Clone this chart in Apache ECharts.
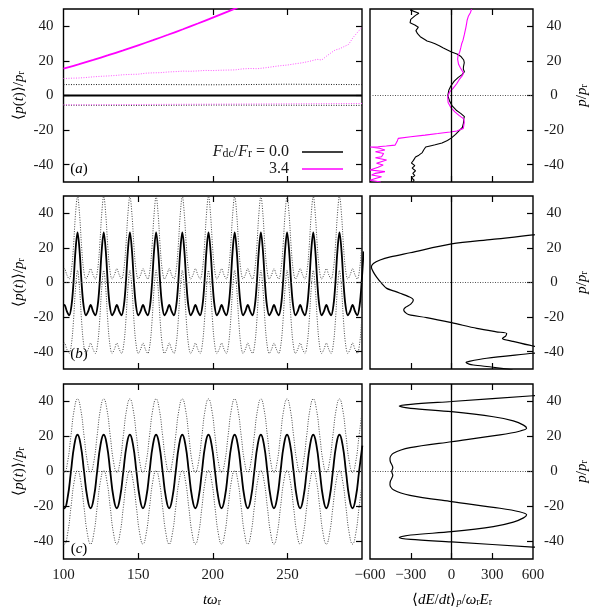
<!DOCTYPE html>
<html>
<head>
<meta charset="utf-8">
<title>p(t) and dE/dt</title>
<script src="https://cdn.jsdelivr.net/npm/echarts@6/dist/echarts.min.js"></script>
<style>
	html, body { margin: 0; padding: 0; background: #fff; }
	#chart { width: 595px; height: 608px; }
</style>
</head>
<body>
<div id="chart"></div>
<script type="text/javascript">
	// ---- panel (a), left: <p(t)> for F_dc/F_r = 0.0 and 3.4
	var tA = [100, 150, 200, 250, 300];
	var meanA0 = [0, 0, 0, 0, 0];
	var upA0 = [6.3, 6.4, 6.2, 6.5, 6.3];
	var loA0 = [-5.6, -5.7, -5.5, -5.6, -5.7];
	var loA34 = [-5.4, -5.2, -5.0, -4.8, -4.6];
	var tA34 = [100, 110, 120, 130, 140, 150, 160, 170, 180, 190, 200, 210, 220];
	var meanA34 = [15.5, 18.0, 20.6, 23.3, 26.1, 29.0, 32.0, 35.1, 38.3, 41.6, 45.0, 48.5, 52.1];
	var tA34up = [100, 105, 110, 115, 120, 125, 130, 135, 140, 145, 150, 155, 160, 165, 170, 175, 180, 185, 190, 195, 200,
		205, 210, 215, 220, 225, 230, 235, 240, 245, 250, 255, 260, 265, 270, 273, 276, 279, 282, 285, 288, 291, 294, 297, 300];
	var upA34 = [9.8, 10.0, 10.1, 10.4, 10.8, 11.1, 11.3, 11.6, 12.0, 12.2, 12.3, 12.9, 13.1, 13.2, 13.6, 13.8, 14.1, 14.0, 14.2, 14.5, 14.4,
		14.6, 14.7, 14.8, 15.4, 15.6, 15.5, 16.0, 16.6, 17.2, 17.6, 18.3, 18.9, 19.8, 20.9, 20.5, 22.6, 24.5, 26.3, 27.0, 28.3, 29.5, 33.5, 36.5, 39.5];

	// ---- panel (a), right: <dE/dt>_p vs p  [dE/dt, p]
	var eA0 = [[-305, 49.5], [-240, 47.5], [-265, 46.3], [-300, 44], [-305, 42], [-270, 40.8], [-244, 39.5], [-262, 37.5], [-250, 35.7],
		[-230, 34], [-200, 32.5], [-180, 31.5], [-150, 30.8], [-121, 29.9], [-90, 28.8], [-60, 27.5], [-30, 26.3], [0, 25.1], [40, 24],
		[70, 22.5], [90, 20.5], [94, 19], [88, 16.5], [87, 15.2], [95, 13.8], [80, 12.2], [50, 10.5], [20, 8.3], [-5, 5.5], [-20, 3],
		[-27, 0], [-15, -3], [5, -6], [35, -8.5], [70, -10.5], [95, -12.2], [90, -13.5], [88, -16], [80, -18.5], [55, -20.5], [30, -22.5],
		[0, -24.5], [-30, -26], [-70, -27.5], [-120, -28.5], [-150, -29], [-190, -29.8], [-205, -31.5], [-215, -33], [-240, -34.5],
		[-265, -35.5], [-280, -37.5], [-295, -39], [-270, -40.5], [-290, -42], [-265, -43.5], [-285, -45], [-270, -46.3], [-295, -47.5],
		[-275, -49], [-285, -50]];
	var eA34 = [[148, 50], [140, 48], [125, 46], [115, 43.5], [112, 42], [105, 39], [98, 36.5], [94, 35], [85, 32], [75, 29.9], [68, 27.5],
		[60, 25], [48, 23], [45, 21], [52, 18], [65, 16], [88, 13], [80, 11.5], [55, 9], [38, 6.8], [10, 4], [-15, 2], [-28, -1], [-25, -4],
		[-5, -7], [25, -9.5], [55, -11.5], [90, -13.5], [94, -15.5], [87, -19], [40, -20.5], [-11, -21.1], [-100, -22], [-195, -22.9],
		[-300, -23.8], [-392, -24.8], [-400, -26.5], [-416, -28.7], [-480, -29.2], [-540, -29.6], [-600, -29.8], [-530, -30.5],
		[-490, -31.5], [-560, -32.5], [-500, -33.5], [-515, -35.4], [-560, -36], [-478, -37.3], [-552, -39.2], [-503, -40.2],
		[-540, -41.5], [-600, -43.1], [-490, -44], [-560, -45], [-588, -46], [-515, -47], [-560, -48], [-600, -49], [-520, -50]];

	// ---- panel (b), left
	var tB = [100.0,
		100.63, 102.20, 103.80, 105.40, 106.70, 108.00, 109.40, 110.80, 112.10, 113.40, 115.00, 116.60,
		118.18, 119.75, 121.35, 122.95, 124.25, 125.55, 126.95, 128.35, 129.65, 130.95, 132.55, 134.15,
		135.73, 137.30, 138.90, 140.50, 141.80, 143.10, 144.50, 145.90, 147.20, 148.50, 150.10, 151.70,
		153.28, 154.85, 156.45, 158.05, 159.35, 160.65, 162.05, 163.45, 164.75, 166.05, 167.65, 169.25,
		170.83, 172.40, 174.00, 175.60, 176.90, 178.20, 179.60, 181.00, 182.30, 183.60, 185.20, 186.80,
		188.38, 189.95, 191.55, 193.15, 194.45, 195.75, 197.15, 198.55, 199.85, 201.15, 202.75, 204.35,
		205.93, 207.50, 209.10, 210.70, 212.00, 213.30, 214.70, 216.10, 217.40, 218.70, 220.30, 221.90,
		223.48, 225.05, 226.65, 228.25, 229.55, 230.85, 232.25, 233.65, 234.95, 236.25, 237.85, 239.45,
		241.03, 242.60, 244.20, 245.80, 247.10, 248.40, 249.80, 251.20, 252.50, 253.80, 255.40, 257.00,
		258.58, 260.15, 261.75, 263.35, 264.65, 265.95, 267.35, 268.75, 270.05, 271.35, 272.95, 274.55,
		276.13, 277.70, 279.30, 280.90, 282.20, 283.50, 284.90, 286.30, 287.60, 288.90, 290.50, 292.10,
		293.68, 295.25, 296.85, 298.45, 299.75, 301.05];
	var pB = [-13.2,
		-13, -16.5, -19, -13, 0, 18, 29, 18, 0, -13, -19, -16.5,
		-13, -16.5, -19, -13, 0, 18, 29, 18, 0, -13, -19, -16.5,
		-13, -16.5, -19, -13, 0, 18, 29, 18, 0, -13, -19, -16.5,
		-13, -16.5, -19, -13, 0, 18, 29, 18, 0, -13, -19, -16.5,
		-13, -16.5, -19, -13, 0, 18, 29, 18, 0, -13, -19, -16.5,
		-13, -16.5, -19, -13, 0, 18, 29, 18, 0, -13, -19, -16.5,
		-13, -16.5, -19, -13, 0, 18, 29, 18, 0, -13, -19, -16.5,
		-13, -16.5, -19, -13, 0, 18, 29, 18, 0, -13, -19, -16.5,
		-13, -16.5, -19, -13, 0, 18, 29, 18, 0, -13, -19, -16.5,
		-13, -16.5, -19, -13, 0, 18, 29, 18, 0, -13, -19, -16.5,
		-13, -16.5, -19, -13, 0, 18, 29, 18, 0, -13, -19, -16.5,
		-13, -16.5, -19, -13, 0, 18];
	var upB = [7.8,
		8, 4.5, 2, 8, 21, 39, 50, 39, 21, 8, 2, 4.5,
		8, 4.5, 2, 8, 21, 39, 50, 39, 21, 8, 2, 4.5,
		8, 4.5, 2, 8, 21, 39, 50, 39, 21, 8, 2, 4.5,
		8, 4.5, 2, 8, 21, 39, 50, 39, 21, 8, 2, 4.5,
		8, 4.5, 2, 8, 21, 39, 50, 39, 21, 8, 2, 4.5,
		8, 4.5, 2, 8, 21, 39, 50, 39, 21, 8, 2, 4.5,
		8, 4.5, 2, 8, 21, 39, 50, 39, 21, 8, 2, 4.5,
		8, 4.5, 2, 8, 21, 39, 50, 39, 21, 8, 2, 4.5,
		8, 4.5, 2, 8, 21, 39, 50, 39, 21, 8, 2, 4.5,
		8, 4.5, 2, 8, 21, 39, 50, 39, 21, 8, 2, 4.5,
		8, 4.5, 2, 8, 21, 39, 50, 39, 21, 8, 2, 4.5,
		8, 4.5, 2, 8, 21, 39];
	var loB = [-35.2,
		-35, -38.5, -41, -35, -22, -4, 7, -4, -22, -35, -41, -38.5,
		-35, -38.5, -41, -35, -22, -4, 7, -4, -22, -35, -41, -38.5,
		-35, -38.5, -41, -35, -22, -4, 7, -4, -22, -35, -41, -38.5,
		-35, -38.5, -41, -35, -22, -4, 7, -4, -22, -35, -41, -38.5,
		-35, -38.5, -41, -35, -22, -4, 7, -4, -22, -35, -41, -38.5,
		-35, -38.5, -41, -35, -22, -4, 7, -4, -22, -35, -41, -38.5,
		-35, -38.5, -41, -35, -22, -4, 7, -4, -22, -35, -41, -38.5,
		-35, -38.5, -41, -35, -22, -4, 7, -4, -22, -35, -41, -38.5,
		-35, -38.5, -41, -35, -22, -4, 7, -4, -22, -35, -41, -38.5,
		-35, -38.5, -41, -35, -22, -4, 7, -4, -22, -35, -41, -38.5,
		-35, -38.5, -41, -35, -22, -4, 7, -4, -22, -35, -41, -38.5,
		-35, -38.5, -41, -35, -22, -4];

	// ---- panel (b), right
	var eB = [[900, 31], [600, 27.5], [300, 24.9], [0, 22.3], [-305, 17.2], [-450, 14.8], [-526, 13], [-575, 11], [-590, 9], [-575, 6],
		[-550, 3], [-514, -0.5], [-477, -3.4], [-420, -5], [-379, -6.2], [-320, -8], [-281, -10.1], [-300, -12.5], [-340, -14.5],
		[-352, -15.9], [-330, -18], [-300, -18.9], [-183, -20.3], [0, -23.2], [186, -26.5], [330, -28.5], [406, -29.4], [400, -30.8],
		[375, -32.3], [450, -34], [600, -36.7], [800, -39], [600, -40.9], [259, -43.8], [130, -45.6], [107, -46.3], [130, -47.2],
		[161, -47.7], [306, -49], [450, -50.5]];

	// ---- panel (c), left
	var tC = [100,
		100.60, 102.79, 104.99, 107.18, 109.38, 111.57, 113.76, 115.96,
		118.15, 120.34, 122.54, 124.73, 126.93, 129.12, 131.31, 133.51,
		135.70, 137.89, 140.09, 142.28, 144.48, 146.67, 148.86, 151.06,
		153.25, 155.44, 157.64, 159.83, 162.03, 164.22, 166.41, 168.61,
		170.80, 172.99, 175.19, 177.38, 179.58, 181.77, 183.96, 186.16,
		188.35, 190.54, 192.74, 194.93, 197.13, 199.32, 201.51, 203.71,
		205.90, 208.09, 210.29, 212.48, 214.68, 216.87, 219.06, 221.26,
		223.45, 225.64, 227.84, 230.03, 232.23, 234.42, 236.61, 238.81,
		241.00, 243.19, 245.39, 247.58, 249.78, 251.97, 254.16, 256.36,
		258.55, 260.74, 262.94, 265.13, 267.33, 269.52, 271.71, 273.91,
		276.10, 278.29, 280.49, 282.68, 284.88, 287.07, 289.26, 291.46,
		293.65, 295.84, 298.04, 300.23];
	var pC = [-20.9,
		-21, -14.8, 0, 14.8, 21, 14.8, 0, -14.8,
		-21, -14.8, 0, 14.8, 21, 14.8, 0, -14.8,
		-21, -14.8, 0, 14.8, 21, 14.8, 0, -14.8,
		-21, -14.8, 0, 14.8, 21, 14.8, 0, -14.8,
		-21, -14.8, 0, 14.8, 21, 14.8, 0, -14.8,
		-21, -14.8, 0, 14.8, 21, 14.8, 0, -14.8,
		-21, -14.8, 0, 14.8, 21, 14.8, 0, -14.8,
		-21, -14.8, 0, 14.8, 21, 14.8, 0, -14.8,
		-21, -14.8, 0, 14.8, 21, 14.8, 0, -14.8,
		-21, -14.8, 0, 14.8, 21, 14.8, 0, -14.8,
		-21, -14.8, 0, 14.8, 21, 14.8, 0, -14.8,
		-21, -14.8, 0, 14.8];
	var upC = [-0.4,
		-0.5, 5.7, 20.5, 35.3, 41.5, 35.3, 20.5, 5.7,
		-0.5, 5.7, 20.5, 35.3, 41.5, 35.3, 20.5, 5.7,
		-0.5, 5.7, 20.5, 35.3, 41.5, 35.3, 20.5, 5.7,
		-0.5, 5.7, 20.5, 35.3, 41.5, 35.3, 20.5, 5.7,
		-0.5, 5.7, 20.5, 35.3, 41.5, 35.3, 20.5, 5.7,
		-0.5, 5.7, 20.5, 35.3, 41.5, 35.3, 20.5, 5.7,
		-0.5, 5.7, 20.5, 35.3, 41.5, 35.3, 20.5, 5.7,
		-0.5, 5.7, 20.5, 35.3, 41.5, 35.3, 20.5, 5.7,
		-0.5, 5.7, 20.5, 35.3, 41.5, 35.3, 20.5, 5.7,
		-0.5, 5.7, 20.5, 35.3, 41.5, 35.3, 20.5, 5.7,
		-0.5, 5.7, 20.5, 35.3, 41.5, 35.3, 20.5, 5.7,
		-0.5, 5.7, 20.5, 35.3];
	var loC = [-41.4,
		-41.5, -35.3, -20.5, -5.7, 0.5, -5.7, -20.5, -35.3,
		-41.5, -35.3, -20.5, -5.7, 0.5, -5.7, -20.5, -35.3,
		-41.5, -35.3, -20.5, -5.7, 0.5, -5.7, -20.5, -35.3,
		-41.5, -35.3, -20.5, -5.7, 0.5, -5.7, -20.5, -35.3,
		-41.5, -35.3, -20.5, -5.7, 0.5, -5.7, -20.5, -35.3,
		-41.5, -35.3, -20.5, -5.7, 0.5, -5.7, -20.5, -35.3,
		-41.5, -35.3, -20.5, -5.7, 0.5, -5.7, -20.5, -35.3,
		-41.5, -35.3, -20.5, -5.7, 0.5, -5.7, -20.5, -35.3,
		-41.5, -35.3, -20.5, -5.7, 0.5, -5.7, -20.5, -35.3,
		-41.5, -35.3, -20.5, -5.7, 0.5, -5.7, -20.5, -35.3,
		-41.5, -35.3, -20.5, -5.7, 0.5, -5.7, -20.5, -35.3,
		-41.5, -35.3, -20.5, -5.7];

	// ---- panel (c), right
	var eC = [[800, 44], [600, 43.3], [0, 40], [-300, 38.4], [-385, 37.4], [-300, 36.1], [0, 34.2], [308, 31.3], [455, 28.9],
		[530, 26.5], [553, 24.7], [500, 23], [357, 20.9], [0, 17], [-305, 13.6], [-428, 10.4], [-453, 7.5], [-450, 5.6], [-432, 2.2],
		[-440, 0], [-432, -2.2], [-450, -5.6], [-453, -7.5], [-428, -10.4], [-305, -13.6], [0, -17.2], [357, -21], [500, -23],
		[553, -24.7], [530, -26.5], [455, -28.9], [308, -31.5], [0, -34.4], [-300, -36.3], [-385, -37.7], [-300, -38.8], [0, -40.2],
		[600, -43.2], [800, -44]];

	// ---- ticks / labels
	var pTicks = [-40, -20, 0, 20, 40];
	var tTicks = [150, 200, 250];
	var tLabels = [100, 150, 200, 250];
	var eTicks = [-300, 0, 300];
	var eLabels = [-600, -300, 0, 300, 600];

	var FONT = 'Liberation Serif';
	var TXT = '#1a1a1a';
	var rich = {
		n: {fontFamily: FONT, fontSize: 15, color: TXT},
		i: {fontFamily: FONT, fontSize: 15, fontStyle: 'italic', color: TXT},
		s: {fontFamily: FONT, fontSize: 10, color: TXT, verticalAlign: 'bottom'},
		si: {fontFamily: FONT, fontSize: 10, fontStyle: 'italic', color: TXT, verticalAlign: 'bottom'},
		ln: {fontFamily: FONT, fontSize: 16, color: TXT},
		li: {fontFamily: FONT, fontSize: 16, fontStyle: 'italic', color: TXT},
		ls: {fontFamily: FONT, fontSize: 12, color: TXT, verticalAlign: 'bottom'}
	};

	function zip(xs, ys){
		var out = [];
		for(var k = 0; k < xs.length; k++){
			out.push([xs[k], ys[k]]);
		}
		return out;
	}
	function each(arr, fn){
		for(var k = 0; k < arr.length; k++){ fn(k, arr[k]); }
	}

	var boxes = [
		{left: 63.5, top: 9, width: 298.5, height: 173},
		{left: 370, top: 9, width: 163, height: 173},
		{left: 63.5, top: 196, width: 298.5, height: 173},
		{left: 370, top: 196, width: 163, height: 173},
		{left: 63.5, top: 384, width: 298.5, height: 175},
		{left: 370, top: 384, width: 163, height: 175}
	];

	var grids = [], xAxes = [], yAxes = [];
	var tickStyle = {color: '#000', width: 1.2};
	each(boxes, function(g, b){
		grids.push({left: b.left, top: b.top, width: b.width, height: b.height, show: true,
			borderColor: '#000', borderWidth: 1.4, backgroundColor: 'transparent'});
		var isLeft = (g % 2 == 0);
		var bottomRow = (g >= 4);
		// x axes: bottom and mirrored top
		each(['bottom', 'top'], function(k, pos){
			xAxes.push({
				gridIndex: g, type: 'value', position: pos,
				min: isLeft ? 100 : -600, max: isLeft ? 300 : 600,
				axisLine: {show: false, onZero: false},
				splitLine: {show: false},
				axisTick: {show: true, inside: true, length: 6, customValues: isLeft ? tTicks : eTicks, lineStyle: tickStyle},
				axisLabel: {
					show: bottomRow && pos == 'bottom', margin: 9,
					customValues: isLeft ? tLabels : eLabels,
					fontFamily: FONT, fontSize: 15, color: TXT,
					formatter: function(v){ return String(v).replace('-', '\u2212'); }
				}
			});
		});
		// y axes: left and right
		each(['left', 'right'], function(k, pos){
			var showLab = (isLeft && pos == 'left') || (!isLeft && pos == 'right');
			yAxes.push({
				gridIndex: g, type: 'value', position: pos, min: -50, max: 50,
				axisLine: {show: false, onZero: false},
				splitLine: {show: false},
				axisTick: {show: isLeft || pos == 'right', inside: true, length: 6, customValues: pTicks, lineStyle: tickStyle},
				axisLabel: {
					show: showLab, customValues: pTicks,
					margin: isLeft ? 10 : 21, align: isLeft ? 'right' : 'center',
					fontFamily: FONT, fontSize: 15, color: TXT
				}
			});
		});
	});

	var dotted = function(color){ return {type: [1, 1.5], width: 1, color: color}; };
	var zeroLine = {silent: true, symbol: ['none', 'none'], label: {show: false}, animation: false,
		data: [{yAxis: 0}], lineStyle: dotted('#444')};
	var crossLines = {silent: true, symbol: ['none', 'none'], label: {show: false}, animation: false,
		data: [{yAxis: 0, lineStyle: dotted('#555')}, {xAxis: 0, lineStyle: {type: 'solid', width: 1.3, color: '#000'}}]};

	function line(name, g, data, style, extra){
		return Object.assign({
			name: name, type: 'line', xAxisIndex: 2 * g, yAxisIndex: 2 * g, data: data,
			symbol: 'none', showSymbol: false, lineStyle: style, itemStyle: {color: style.color},
			animation: false, silent: true
		}, extra || {});
	}

	var series = [
		line('a0up', 0, zip(tA, upA0), dotted('#222')),
		line('a0lo', 0, zip(tA, loA0), dotted('#222')),
		line('a34up', 0, zip(tA34up, upA34), dotted('#ff55ff')),
		line('a34lo', 0, zip(tA, loA34), dotted('#ff55ff')),
		line('0.0', 0, zip(tA, meanA0), {color: '#000', width: 1.8}),
		line('3.4', 0, zip(tA34, meanA34), {color: '#ff00ff', width: 1.8}, {smooth: 0.4}),

		line('ea0', 1, eA0, {color: '#000', width: 1.1}, {markLine: crossLines}),
		line('ea34', 1, eA34, {color: '#ff00ff', width: 1.1}),

		line('bup', 2, zip(tB, upB), dotted('#444'), {smooth: 0.35, markLine: zeroLine}),
		line('blo', 2, zip(tB, loB), dotted('#444'), {smooth: 0.35}),
		line('b', 2, zip(tB, pB), {color: '#000', width: 1.8}, {smooth: 0.35}),

		line('eb', 3, eB, {color: '#000', width: 1.2}, {smooth: 0.3, markLine: crossLines}),

		line('cup', 4, zip(tC, upC), dotted('#444'), {smooth: 0.5, markLine: zeroLine}),
		line('clo', 4, zip(tC, loC), dotted('#444'), {smooth: 0.5}),
		line('c', 4, zip(tC, pC), {color: '#000', width: 1.8}, {smooth: 0.5}),

		line('ec', 5, eC, {color: '#000', width: 1.2}, {smooth: 0.3, markLine: crossLines})
	];

	var legendBase = {orient: 'vertical', right: 252, align: 'right', padding: 0, selectedMode: false,
		itemWidth: 41, itemHeight: 1.5, textStyle: {rich: rich}};

	var yName = '{n|\u27e8}{i|p}{n|(}{i|t}{n|)\u27e9/}{i|p}{s|r}';
	var graphic = [];
	each([95.5, 282.5, 471.5], function(k, cy){
		graphic.push({type: 'text', x: 19, y: cy, rotation: Math.PI / 2,
			style: {text: yName, rich: rich, align: 'center', verticalAlign: 'middle'}});
		graphic.push({type: 'text', x: 582, y: cy, rotation: Math.PI / 2,
			style: {text: '{i|p}{n|/}{i|p}{s|r}', rich: rich, align: 'center', verticalAlign: 'middle'}});
	});
	each([['a', 169], ['b', 354], ['c', 549]], function(k, lb){
		graphic.push({type: 'text', x: 79, y: lb[1],
			style: {text: '{n|(}{i|' + lb[0] + '}{n|)}', rich: rich, align: 'center', verticalAlign: 'middle'}});
	});
	graphic.push({type: 'text', x: 212, y: 600,
		style: {text: '{i|t\u03c9}{s|r}', rich: rich, align: 'center', verticalAlign: 'middle'}});
	graphic.push({type: 'text', x: 452, y: 600,
		style: {text: '{n|\u27e8}{i|dE}{n|/}{i|dt}{n|\u27e9}{si|p}{n|/}{i|\u03c9}{s|r}{i|E}{s|r}', rich: rich, align: 'center', verticalAlign: 'middle'}});

	var option = {
		backgroundColor: '#fff',
		animation: false,
		grid: grids,
		xAxis: xAxes,
		yAxis: yAxes,
		legend: [
			Object.assign({}, legendBase, {top: 144, data: [{name: '0.0', icon: 'rect'}],
				formatter: '{li|F}{ls|dc}{ln|/}{li|F}{ls|r}{ln| = 0.0  }'}),
			Object.assign({}, legendBase, {top: 161, data: [{name: '3.4', icon: 'rect'}],
				formatter: '{ln|3.4  }'})
		],
		graphic: graphic,
		series: series
	};

	var myChart = echarts.init(document.getElementById('chart'));
	myChart.setOption(option);
</script>
</body>
</html>
